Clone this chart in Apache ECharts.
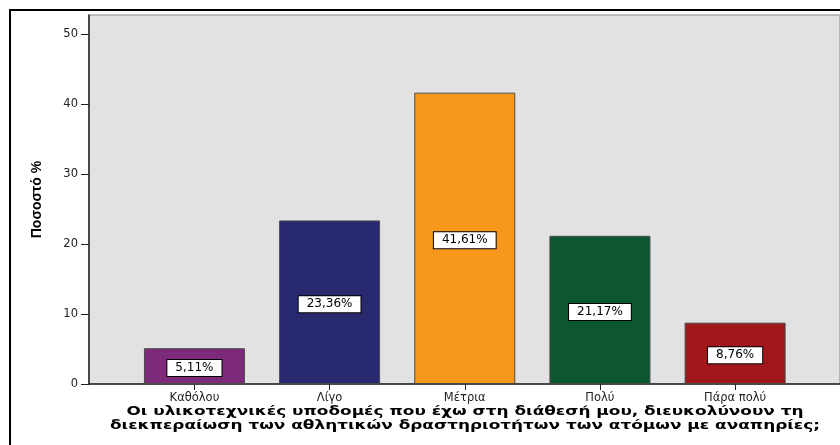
<!DOCTYPE html>
<html>
<head>
<meta charset="utf-8">
<script src="https://cdn.jsdelivr.net/npm/echarts@6/dist/echarts.min.js"></script>
<style>
html,body{margin:0;padding:0;background:#fff;}
#chart{width:840px;height:445px;}
</style>
</head>
<body>
<div id="chart"></div>
<script>
// Answer categories and the share of respondents (%) for each
const categories = ['Καθόλου', 'Λίγο', 'Μέτρια', 'Πολύ', 'Πάρα πολύ'];
const percents = [5.11, 23.36, 41.61, 21.17, 8.76];
const barColors = ['#7d2a7a', '#29296f', '#f7981d', '#0c5730', '#a1171c'];
const yTicks = [0, 10, 20, 30, 40, 50];
const yTitle = 'Ποσοστό %';
const xTitle = 'Οι υλικοτεχνικές υποδομές που έχω στη διάθεσή μου, διευκολύνουν τη\nδιεκπεραίωση των αθλητικών δραστηριοτήτων των ατόμων με αναπηρίες;';

const Y_MAX = 52.7;

const chart = echarts.init(document.getElementById('chart'), null, {renderer: 'canvas'});

const fmtPct = v => v.toFixed(2).replace('.', ',') + '%';

chart.setOption({
  animation: false,
  backgroundColor: '#ffffff',
  graphic: [
    {
      // outer frame
      type: 'rect',
      z: 100,
      silent: true,
      shape: {x: 10, y: 10, width: 900, height: 600},
      style: {fill: 'none', stroke: '#000', lineWidth: 2}
    },
    {
      // x axis title, drawn slightly widened
      type: 'text',
      x: 465,
      y: 419,
      scaleX: 1.3,
      silent: true,
      style: {
        text: xTitle,
        fill: '#000',
        font: 'bold 13px "DejaVu Sans"',
        lineHeight: 14,
        align: 'center',
        verticalAlign: 'middle'
      }
    }
  ],
  grid: [
    // category bands for the bars
    {left: 126.85, right: 37.3, top: 15, bottom: 61},
    // full plot frame with grey background and the visible y axis
    {left: 89, right: -4, top: 15, bottom: 61, show: true,
     backgroundColor: '#e2e2e2', borderColor: '#8a8a8a', borderWidth: 1, z: 0}
  ],
  xAxis: [
    {
      gridIndex: 0,
      type: 'category',
      data: categories,
      boundaryGap: true,
      axisLine: {show: false},
      axisTick: {show: true, alignWithLabel: true, length: 6, lineStyle: {color: '#222', width: 1}},
      axisLabel: {color: '#222', fontFamily: 'DejaVu Sans', fontSize: 11.5, margin: 8}
    },
    {
      gridIndex: 1,
      type: 'value',
      min: 0, max: 1,
      axisLine: {show: true, lineStyle: {color: '#222', width: 1.5}},
      axisTick: {show: false},
      axisLabel: {show: false},
      splitLine: {show: false}
    }
  ],
  yAxis: [
    {
      gridIndex: 0,
      type: 'value',
      min: 0, max: Y_MAX,
      show: false,
      splitLine: {show: false}
    },
    {
      gridIndex: 1,
      type: 'value',
      min: 0, max: Y_MAX,
      axisLine: {show: true, lineStyle: {color: '#222', width: 1.5}},
      axisTick: {show: true, length: 8, customValues: yTicks, lineStyle: {color: '#222'}},
      axisLabel: {color: '#222', fontFamily: 'DejaVu Sans', fontSize: 11.5, margin: 11, customValues: yTicks},
      splitLine: {show: false},
      name: yTitle,
      nameLocation: 'middle',
      nameGap: 45,
      nameRotate: 90,
      nameTextStyle: {
        color: '#000', fontFamily: 'Liberation Sans Narrow, Liberation Sans, sans-serif',
        fontWeight: 'bold', fontSize: 14
      }
    }
  ],
  series: [{
    type: 'bar',
    xAxisIndex: 0,
    yAxisIndex: 0,
    barWidth: 101,
    data: percents.map((v, i) => ({
      value: v,
      itemStyle: {color: barColors[i], borderColor: '#4a4a4a', borderWidth: 1}
    })),
    label: {
      show: true,
      position: 'inside',
      offset: [0, 2],
      formatter: p => fmtPct(p.value),
      color: '#000',
      fontFamily: 'DejaVu Sans',
      fontSize: 12,
      lineHeight: 14,
      backgroundColor: '#fff',
      borderColor: '#000',
      borderWidth: 1,
      padding: [1, 8, 1, 8]
    }
  }]
});
</script>
</body>
</html>
